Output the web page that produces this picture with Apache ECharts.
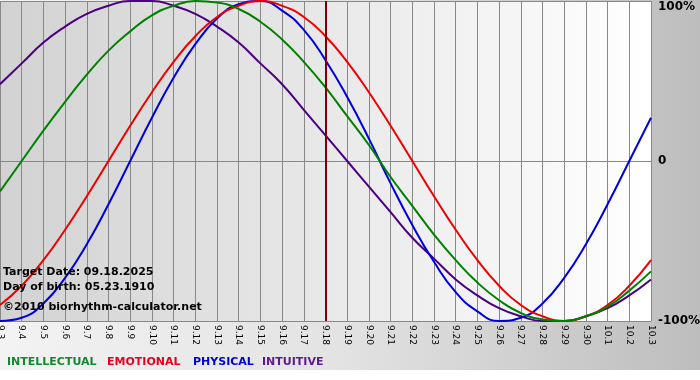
<!DOCTYPE html>
<html>
<head>
<meta charset="utf-8">
<script src="https://cdn.jsdelivr.net/npm/echarts@6/dist/echarts.min.js"></script>
<style>html,body{margin:0;padding:0;background:#fff}#c{width:700px;height:380px}</style>
</head>
<body>
<div id="c"></div>
<script>
const dates = ['9.3','9.4','9.5','9.6','9.7','9.8','9.9','9.10','9.11','9.12','9.13','9.14','9.15','9.16','9.17','9.18','9.19','9.20','9.21','9.22','9.23','9.24','9.25','9.26','9.27','9.28','9.29','9.30','10.1','10.2','10.3'];
const physical = [-100,-98,-89,-73,-52,-27,0,27,52,73,89,98,100,94,82,63,40,14,-14,-40,-63,-82,-94,-100,-98,-89,-73,-52,-27,0,27];
const emotional = [-90,-78,-62,-43,-22,0,22,43,62,78,90,97,100,97,90,78,62,43,22,0,-22,-43,-62,-78,-90,-97,-100,-97,-90,-78,-62];
const intellectual = [-19,0,19,37,54,69,81,91,97,100,99,95,87,76,62,46,28,10,-10,-28,-46,-62,-76,-87,-95,-99,-100,-97,-91,-81,-69];
const intuitive = [48,61,74,84,92,97,100,100,97,92,84,74,61,48,32,16,0,-16,-32,-48,-61,-74,-84,-92,-97,-100,-100,-97,-92,-84,-74];
const yTicks = {'100':'100%','0':'0','-100':'-100%'};
const targetDate = '9.18';
const infoLines = ['Target Date: 09.18.2025','Day of birth: 05.23.1910','©2010 biorhythm-calculator.net'];
const legendNames = ['INTELLECTUAL','EMOTIONAL','PHYSICAL','INTUITIVE'];

const FONT = '"DejaVu Sans", Verdana, sans-serif';
const colors = {INTELLECTUAL:'#008000', EMOTIONAL:'#ee0000', PHYSICAL:'#0000dd', INTUITIVE:'#4b0082'};
const legendColors = {INTELLECTUAL:'#108a30', EMOTIONAL:'#e8001c', PHYSICAL:'#0000dd', INTUITIVE:'#5a1a90'};
const legendX = [7,107,193,262];

const chart = echarts.init(document.getElementById('c'), null, {renderer:'canvas'});

function line(name, data, extra) {
  return Object.assign({
    name, type:'line', data, smooth:0.5, showSymbol:false, symbol:'none',
    lineStyle:{color:colors[name], width:2}, itemStyle:{color:colors[name]},
    animation:false, silent:true
  }, extra||{});
}

const graphics = [
  {type:'rect', shape:{x:0,y:370,width:700,height:10}, style:{fill:'#ffffff'}, silent:true}
];
infoLines.forEach((t,i)=>{
  graphics.push({type:'text', x:3, y:[272,287,307.5][i], style:{text:t, font:'bold 11px '+FONT, fill:'#000', verticalAlign:'middle'}, z:100, silent:true});
});
legendNames.forEach((n,i)=>{
  graphics.push({type:'text', x:legendX[i], y:362, style:{text:n, font:'bold 11px '+FONT, fill:legendColors[n], verticalAlign:'middle'}, z:100, silent:true});
});

const option = {
  animation:false,
  backgroundColor: new echarts.graphic.LinearGradient(0,0,1,0,[{offset:0,color:'#f3f3f3'},{offset:0.5,color:'#e2e2e2'},{offset:1,color:'#bdbdbd'}]),
  grid:{left:0, top:1, width:651, height:320, show:true, borderWidth:0, containLabel:false, outerBoundsMode:'none',
    backgroundColor: new echarts.graphic.LinearGradient(0,0,1,0,[{offset:0,color:'#d2d2d2'},{offset:1,color:'#ffffff'}])},
  xAxis:{
    type:'category', data:dates, boundaryGap:false,
    axisLine:{lineStyle:{color:'#888888', width:1}},
    axisTick:{show:true, interval:0, length:3, lineStyle:{color:'#888888'}},
    axisLabel:{interval:0, rotate:-90, margin:4, fontSize:9, fontFamily:FONT, color:'#000', hideOverlap:false},
    splitLine:{show:true, interval:0, lineStyle:{color:'#888888', width:1}}
  },
  yAxis:{
    type:'value', position:'right', min:-100, max:100, interval:100,
    axisLine:{show:false}, axisTick:{show:false},
    splitLine:{show:true, lineStyle:{color:'#888888', width:1}},
    axisLabel:{margin:7, formatter:v=> v===100 ? '{t|'+yTicks['100']+'}' : '{n|'+yTicks[String(v)]+'}',
      rich:{t:{fontSize:12, fontWeight:'bold', fontFamily:FONT, color:'#000', padding:[12,0,0,0]},
            n:{fontSize:12, fontWeight:'bold', fontFamily:FONT, color:'#000'}}}
  },
  series:[
    line('INTUITIVE', intuitive),
    line('PHYSICAL', physical),
    line('EMOTIONAL', emotional, {markLine:{silent:true, symbol:['none','none'], label:{show:false},
      lineStyle:{color:'#800000', width:2, type:'solid'}, data:[{xAxis:targetDate}], animation:false}}),
    line('INTELLECTUAL', intellectual)
  ],
  graphic: graphics
};
chart.setOption(option);
</script>
</body>
</html>
